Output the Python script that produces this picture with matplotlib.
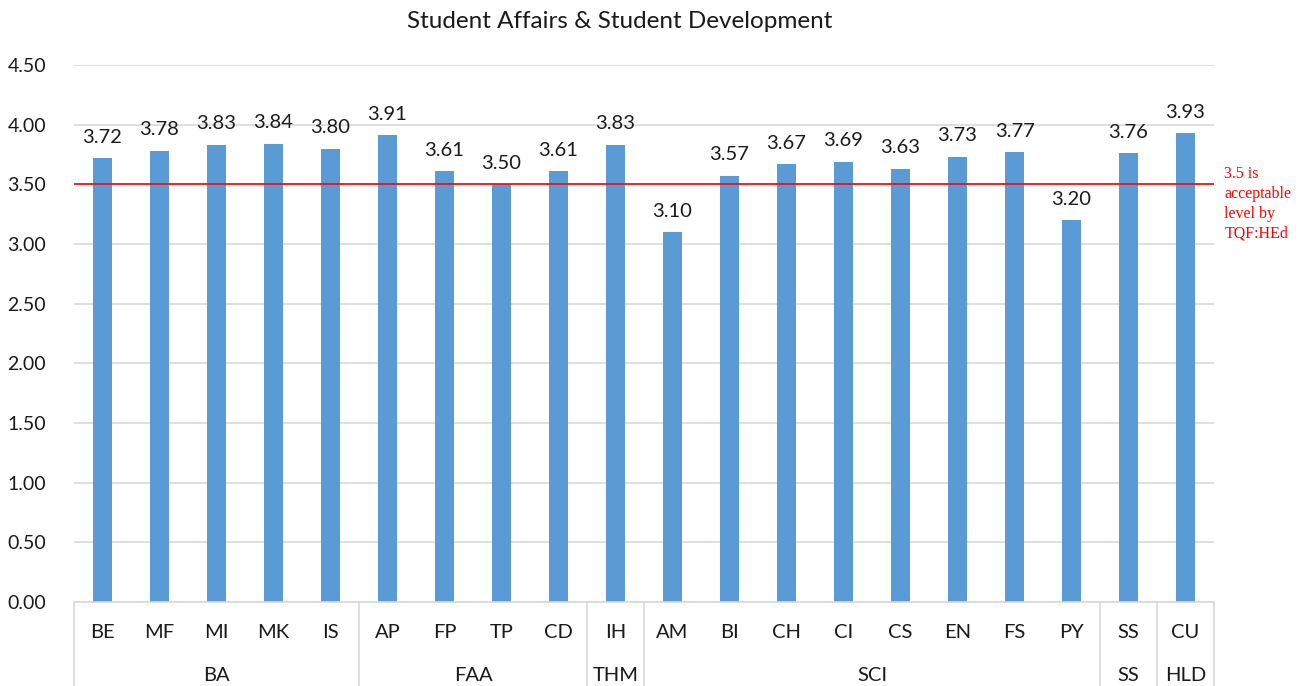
import matplotlib
matplotlib.use("Agg")
import matplotlib.pyplot as plt
import numpy as np

plt.rcParams["font.family"] = ["Lato", "DejaVu Sans"]

TITLE = "Student Affairs & Student Development"
programs = ["BE", "MF", "MI", "MK", "IS", "AP", "FP", "TP", "CD", "IH",
            "AM", "BI", "CH", "CI", "CS", "EN", "FS", "PY", "SS", "CU"]
scores = [3.72, 3.78, 3.83, 3.84, 3.80, 3.91, 3.61, 3.50, 3.61, 3.83,
          3.10, 3.57, 3.67, 3.69, 3.63, 3.73, 3.77, 3.20, 3.76, 3.93]
faculties = ["BA", "FAA", "THM", "SCI", "SS", "HLD"]
faculty_sizes = [5, 4, 1, 8, 1, 1]
threshold = 3.5
threshold_note = "3.5 is\nacceptable\nlevel by\nTQF:HEd"
yticks = np.arange(0, 4.51, 0.5)

BAR = "#5B9BD5"
GRID = "#D9D9D9"
TXT = "#1a1a1a"

fig = plt.figure(figsize=(13.07, 6.86), dpi=100)
ax = fig.add_axes([74 / 1307, 84 / 686, 1140 / 1307, 537 / 686])

x = np.arange(len(programs))
ax.bar(x, scores, width=0.32, color=BAR, zorder=2)
for xi, v in zip(x, scores):
    ax.annotate(f"{v:.2f}", (xi, v), xytext=(0, 9), textcoords="offset points",
                ha="center", va="bottom", fontsize=14.5, color=TXT)

ax.set_xlim(-0.5, len(programs) - 0.5)
ax.set_ylim(0, 4.5)
ax.set_yticks(yticks)
ax.set_yticklabels([f"{t:.2f}" for t in yticks], fontsize=14, color=TXT)
ax.tick_params(axis="y", length=0, pad=20)
ax.set_xticks([])
ax.grid(axis="y", color=GRID, linewidth=1.2, zorder=0)
for s in ["top", "right", "left"]:
    ax.spines[s].set_visible(False)
ax.spines["bottom"].set_color(GRID)
ax.spines["bottom"].set_linewidth(1.2)

# threshold line and note
ax.axhline(threshold, color="#FF0000", linewidth=1.2, zorder=3)
ax.text(1.009, threshold + 0.15, threshold_note, transform=ax.get_yaxis_transform(),
        ha="left", va="top", fontsize=11.5, color="#FF0000",
        family="Liberation Serif", linespacing=1.3)

# two-level category axis
trans = ax.get_xaxis_transform()
for xi, p in zip(x, programs):
    ax.text(xi, -0.056, p, transform=trans, ha="center", va="center",
            fontsize=14.5, color=TXT)
edges = np.concatenate([[0], np.cumsum(faculty_sizes)]) - 0.5
for i, f in enumerate(faculties):
    ax.text((edges[i] + edges[i + 1]) / 2, -0.136, f, transform=trans,
            ha="center", va="center", fontsize=14.5, color=TXT)
for e in edges:
    ax.plot([e, e], [0, -0.16], transform=trans, color=GRID, linewidth=1.2,
            clip_on=False)

fig.text(0.474, 1 - 22 / 686, TITLE, ha="center", va="center", fontsize=17.5,
         color=TXT)

fig.savefig("out.png", dpi=100)
